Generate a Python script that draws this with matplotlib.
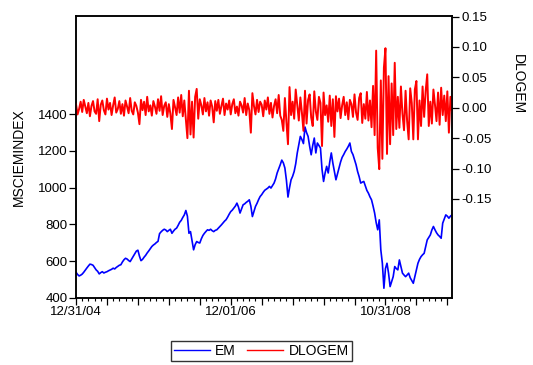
"""EM index level vs. its daily log change (EViews-style dual-axis line chart)."""

import matplotlib

matplotlib.use("Agg")
import matplotlib.pyplot as plt
import numpy as np
import pandas as pd
from matplotlib.ticker import FuncFormatter, MultipleLocator

plt.rcParams["font.family"] = ["Liberation Sans", "DejaVu Sans"]
FS = 9.5

# weekly samples (every 5th weekday from 12/31/04)
em = [
    540, 528, 520, 524, 530, 540, 552, 563, 574, 584,
    582, 578, 566, 553, 545, 531, 538, 543, 536, 540,
    543, 548, 552, 556, 562, 558, 566, 572, 578, 581,
    596, 608, 616, 612, 604, 598, 612, 626, 640, 655,
    660, 628, 603, 610, 622, 632, 645, 656, 668, 680,
    688, 694, 702, 708, 750, 760, 768, 774, 770, 761,
    768, 774, 752, 764, 774, 780, 795, 812, 822, 838,
    852, 876, 845, 752, 761, 712, 662, 690, 707, 702,
    699, 722, 740, 752, 762, 771, 768, 774, 766, 761,
    768, 771, 780, 789, 798, 808, 818, 826, 840, 856,
    870, 878, 889, 900, 916, 895, 862, 885, 907, 912,
    920, 926, 934, 900, 843, 870, 898, 915, 935, 952,
    962, 975, 986, 992, 998, 1007, 998, 1012, 1025, 1048,
    1080, 1102, 1125, 1150, 1135, 1107, 1040, 949, 1000, 1043,
    1062, 1088, 1130, 1189, 1235, 1279, 1262, 1240, 1330, 1300,
    1279, 1225, 1179, 1230, 1270, 1189, 1243, 1230, 1216, 1100,
    1034, 1080, 1116, 1080, 1140, 1189, 1134, 1090, 1043, 1075,
    1107, 1140, 1165, 1180, 1197, 1210, 1225, 1243, 1197, 1180,
    1152, 1125, 1088, 1060, 1025, 1030, 1034, 1010, 985, 970,
    950, 934, 900, 862, 810, 771, 825, 662, 589, 453,
    560, 589, 535, 462, 490, 516, 571, 560, 553, 607,
    570, 535, 525, 516, 525, 535, 510, 495, 480, 516,
    550, 589, 610, 625, 635, 643, 680, 716, 730, 743,
    770, 789, 771, 755, 743, 735, 725, 807, 830, 852,
    845, 834, 845, 852,
]

dlogem = [
    0.006, -0.011, -0.002, 0.010, -0.007, 0.013, 0.002, -0.009, 0.008, -0.014,
    0.003, 0.011, -0.006, -0.010, 0.014, -0.022, 0.005, 0.012, -0.004, -0.011,
    0.015, -0.003, 0.008, -0.012, 0.004, 0.017, -0.008, -0.002, 0.011, -0.010,
    0.006, -0.013, 0.012, 0.002, -0.009, 0.016, -0.005, -0.011, 0.009, 0.003,
    -0.008, -0.027, 0.013, -0.004, 0.010, -0.012, 0.018, -0.006, 0.004, -0.013,
    0.011, 0.002, -0.010, 0.014, -0.005, 0.019, -0.012, 0.003, 0.009, -0.015,
    0.006, -0.010, -0.035, 0.013, 0.001, -0.012, 0.017, -0.008, 0.021, -0.014,
    0.012, -0.020, -0.050, 0.028, -0.044, 0.010, -0.049, 0.018, 0.031, -0.018,
    0.014, 0.004, -0.011, 0.016, -0.006, 0.009, -0.013, 0.012, 0.002, -0.024,
    0.011, -0.005, 0.013, -0.010, 0.003, 0.015, -0.012, 0.007, -0.003, 0.012,
    -0.011, 0.006, 0.014, -0.009, 0.002, -0.013, 0.010, 0.004, -0.008, 0.016,
    -0.012, 0.007, -0.004, -0.041, 0.024, 0.003, -0.011, 0.013, -0.007, 0.010,
    0.005, -0.014, 0.012, -0.003, 0.017, -0.010, 0.008, -0.016, 0.003, 0.014,
    -0.009, 0.021, -0.013, -0.020, -0.038, 0.016, -0.024, -0.060, 0.034, -0.012,
    0.010, -0.018, 0.030, 0.004, -0.021, 0.017, -0.008, -0.038, 0.028, -0.026,
    0.013, 0.022, -0.016, -0.030, 0.027, -0.006, -0.020, 0.018, 0.008, -0.063,
    0.025, -0.012, 0.004, -0.023, 0.020, -0.030, 0.014, -0.048, 0.019, -0.006,
    0.015, -0.017, 0.004, 0.018, -0.012, 0.009, -0.019, 0.013, 0.006, -0.015,
    0.022, -0.008, -0.020, 0.016, 0.024, -0.025, 0.006, -0.018, 0.026, -0.021,
    0.012, -0.032, 0.036, -0.045, 0.094, -0.066, -0.101, 0.045, -0.084, 0.066,
    0.098, -0.076, 0.052, -0.060, 0.040, -0.045, 0.074, -0.035, 0.018, -0.033,
    0.035, -0.010, -0.037, 0.028, -0.022, -0.052, 0.032, 0.008, -0.052, 0.030,
    0.044, -0.052, 0.012, -0.030, 0.035, -0.015, 0.028, 0.055, -0.030, 0.010,
    -0.026, 0.030, 0.005, -0.022, 0.025, -0.028, 0.033, -0.012, 0.020, -0.022,
    0.027, -0.041, 0.018, -0.006,
]

STEP = 5
obs = np.arange(len(em)) * STEP
dates = pd.bdate_range("2004-12-31", periods=obs[-1] + 1)
date_ticks = [0, 500, 1000]

fig = plt.figure(figsize=(5.33, 3.65), dpi=100)
ax = fig.add_axes([0.1426, 0.1836, 0.7054, 0.7726])
ax2 = ax.twinx()

ax.plot(obs, em, color="#0000ff", lw=1.2, label="EM")
ax2.plot(obs, dlogem, color="#ff0000", lw=1.4, label="DLOGEM")

ax.set_xlim(0, obs[-1])
ax.set_ylim(400, 1934)
ax2.set_ylim(-0.313, 0.151)

ax.set_yticks([400, 600, 800, 1000, 1200, 1400])
ax2.set_yticks([-0.15, -0.10, -0.05, 0.0, 0.05, 0.10, 0.15])
ax2.yaxis.set_major_formatter(FuncFormatter(lambda v, p: f"{v:.2f}"))

# EViews-ish obs ticks: long every 100 obs, short every 20, dates at 0/500/1000
ax.xaxis.set_major_locator(MultipleLocator(100))
ax.xaxis.set_minor_locator(MultipleLocator(20))
ax.xaxis.set_major_formatter(FuncFormatter(
    lambda v, p: dates[int(round(v))].strftime("%m/%d/%y") if int(round(v)) in date_ticks else ""))

for a in (ax, ax2):
    for s in a.spines.values():
        s.set_linewidth(1.1)
        s.set_color("black")
ax.tick_params(axis="y", direction="out", length=5, width=0.9, labelsize=FS, pad=1)
ax2.tick_params(axis="y", direction="out", length=5, width=0.9, labelsize=FS, pad=2)
ax.tick_params(axis="x", which="major", direction="out", length=5, width=0.9, labelsize=FS, pad=1)
ax.tick_params(axis="x", which="minor", direction="out", length=2.5, width=0.8)

ax.set_ylabel("MSCIEMINDEX", fontsize=FS + 0.5, labelpad=9)
fig.text(0.972, 1 - 84 / 365, "DLOGEM", rotation=-90, ha="center", va="center", fontsize=FS + 0.5)

h1, l1 = ax.get_legend_handles_labels()
h2, l2 = ax2.get_legend_handles_labels()
leg = fig.legend(h1 + h2, l1 + l2, loc="center", bbox_to_anchor=(0.49, 1 - 351 / 365), ncol=2,
                 frameon=True, fancybox=False, edgecolor="black", fontsize=FS + 0.5,
                 handlelength=2.6, columnspacing=0.8, handletextpad=0.4, borderpad=0.2)
leg.get_frame().set_linewidth(1.0)
for ln in leg.get_lines():
    ln.set_linewidth(1.0)

fig.savefig("out.png", dpi=100, facecolor="white")
